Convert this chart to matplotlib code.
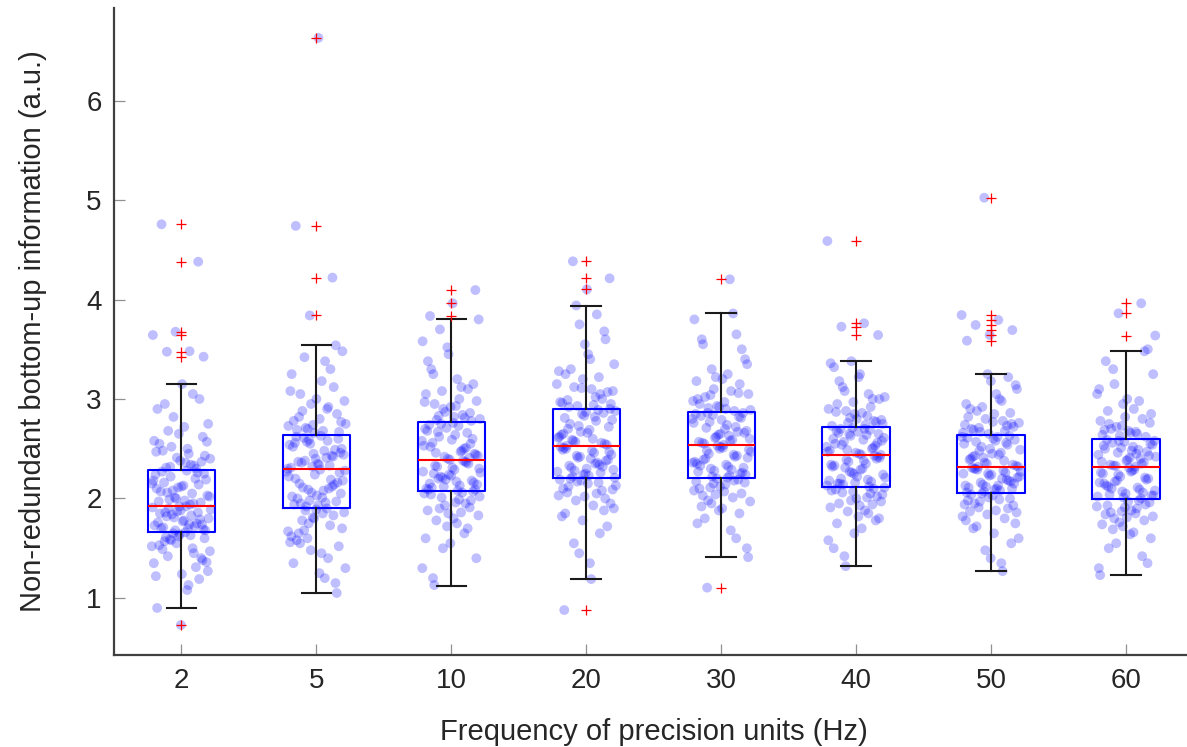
import matplotlib
matplotlib.use("Agg")
import matplotlib.pyplot as plt
import numpy as np

# ---------------- data ----------------
categories = ["2", "5", "10", "20", "30", "40", "50", "60"]

# box statistics
q1 = [1.667, 1.901, 2.075, 2.204, 2.209, 2.119, 2.058, 1.995]
med = [1.925, 2.293, 2.387, 2.528, 2.538, 2.434, 2.313, 2.320]
q3 = [2.286, 2.638, 2.772, 2.903, 2.869, 2.715, 2.638, 2.595]
whislo = [0.900, 1.047, 1.124, 1.188, 1.409, 1.322, 1.271, 1.231]
whishi = [3.154, 3.543, 3.800, 3.938, 3.861, 3.385, 3.251, 3.482]
outliers = [
    [4.756, 4.38, 3.676, 3.643, 3.475, 3.425, 0.729],
    [6.63, 4.74, 4.22, 3.84],
    [4.095, 3.962, 3.834],
    [4.384, 4.213, 4.102, 0.879],
    [4.203, 1.104],
    [4.588, 3.761, 3.727, 3.643],
    [5.023, 3.844, 3.794, 3.744, 3.693, 3.643, 3.586],
    [3.962, 3.861, 3.638],
]

# individual observations (estimated from the scatter)
obs_2 = [1.52, 1.13, 1.61, 1.38, 1.64, 0.90, 1.45, 1.58, 1.27, 1.66, 1.49, 1.19, 1.55, 1.35, 1.63, 1.42, 1.60, 1.24, 1.53, 1.31, 1.65, 1.47, 1.08, 1.57, 1.40, 1.62, 1.22, 1.50, 1.59, 1.36,
         1.78, 1.70, 1.86, 1.68, 1.91, 1.74, 1.82, 1.69, 1.88, 1.76, 1.72, 1.84, 1.80, 1.92, 1.71, 1.79, 1.87, 1.73, 1.83, 1.90, 1.68, 1.77, 1.85, 1.75, 1.81, 1.89, 1.70, 1.86, 1.74, 1.92,
         2.10, 1.95, 2.22, 2.03, 1.98, 2.27, 2.14, 2.00, 2.18, 1.94, 2.06, 2.25, 2.12, 1.97, 2.20, 2.08, 2.02, 2.28, 2.16, 1.96, 2.11, 2.24, 2.05, 1.99, 2.19, 2.13, 2.07, 2.26, 2.01, 2.15,
         2.45, 2.31, 2.62, 2.38, 2.90, 2.33, 2.52, 2.75, 2.36, 2.48, 3.00, 2.41, 2.58, 2.34, 2.68, 2.43, 3.15, 2.55, 2.30, 2.82, 2.40, 2.50, 2.95, 2.37, 2.65, 2.47, 3.05, 2.32, 2.57, 2.72,
         4.756, 4.38, 3.676, 3.643, 3.48, 3.475, 3.425, 0.729]
obs_5 = [1.75, 1.30, 1.85, 1.55, 1.05, 1.80, 1.62, 1.40, 1.88, 1.70, 1.25, 1.58, 1.83, 1.48, 1.67, 1.20, 1.78, 1.52, 1.89, 1.35, 1.73, 1.60, 1.86, 1.45, 1.65, 1.15, 1.81, 1.56, 1.90, 1.68,
         2.05, 1.93, 2.20, 2.12, 1.98, 2.27, 2.08, 1.95, 2.16, 2.24, 2.02, 2.10, 1.92, 2.18, 2.29, 2.00, 2.14, 2.06, 2.22, 1.96, 2.11, 2.26, 2.03, 1.94, 2.19, 2.09, 2.28, 2.01, 2.15, 1.97,
         2.45, 2.31, 2.58, 2.38, 2.50, 2.34, 2.62, 2.42, 2.55, 2.30, 2.48, 2.36, 2.60, 2.40, 2.52, 2.33, 2.57, 2.44, 2.63, 2.37, 2.49, 2.32, 2.54, 2.41, 2.61, 2.46, 2.35, 2.56, 2.43, 2.59,
         2.75, 2.68, 3.05, 2.85, 2.66, 3.25, 2.92, 2.71, 3.48, 2.80, 2.69, 3.12, 2.95, 2.73, 3.38, 2.88, 2.67, 3.00, 2.78, 3.30, 2.70, 2.98, 3.18, 2.82, 3.54, 2.74, 3.08, 2.90, 3.42, 2.77,
         6.63, 4.74, 4.22, 3.84]
obs_10 = [1.95, 1.50, 2.02, 1.75, 1.13, 1.98, 1.85, 1.60, 2.06, 1.90, 1.40, 1.80, 2.04, 1.70, 1.93, 1.30, 1.99, 1.78, 2.07, 1.55, 1.88, 1.65, 2.01, 1.83, 1.96, 1.20, 1.91, 1.72, 2.05, 1.86,
          2.20, 2.09, 2.31, 2.15, 2.36, 2.12, 2.26, 2.08, 2.33, 2.18, 2.24, 2.10, 2.38, 2.22, 2.14, 2.29, 2.11, 2.35, 2.19, 2.27, 2.13, 2.32, 2.16, 2.23, 2.09, 2.37, 2.21, 2.30, 2.17, 2.25,
          2.55, 2.40, 2.70, 2.48, 2.62, 2.44, 2.76, 2.52, 2.66, 2.42, 2.58, 2.73, 2.46, 2.60, 2.39, 2.68, 2.50, 2.75, 2.43, 2.64, 2.56, 2.41, 2.71, 2.53, 2.47, 2.67, 2.45, 2.59, 2.74, 2.51,
          2.90, 2.80, 3.20, 2.95, 2.78, 3.45, 3.05, 2.84, 3.70, 2.98, 2.82, 3.30, 3.10, 2.87, 3.58, 3.00, 2.79, 3.15, 2.92, 3.38, 2.81, 3.08, 3.80, 2.93, 3.25, 2.86, 3.52, 2.97, 3.12, 2.83,
          4.095, 3.962, 3.834]
obs_20 = [2.10, 1.65, 2.17, 1.90, 1.19, 2.12, 2.00, 1.78, 2.19, 2.05, 1.55, 1.95, 2.15, 1.85, 2.08, 1.45, 2.13, 1.93, 2.20, 1.72, 2.02, 1.82, 2.16, 1.98, 2.09, 1.35, 2.06, 1.88, 2.18, 2.03,
          2.35, 2.22, 2.47, 2.30, 2.51, 2.26, 2.41, 2.21, 2.48, 2.33, 2.38, 2.24, 2.52, 2.36, 2.28, 2.44, 2.23, 2.50, 2.32, 2.42, 2.27, 2.46, 2.31, 2.39, 2.25, 2.49, 2.34, 2.43, 2.29, 2.40,
          2.70, 2.55, 2.85, 2.62, 2.78, 2.58, 2.90, 2.66, 2.81, 2.56, 2.73, 2.88, 2.60, 2.75, 2.54, 2.83, 2.64, 2.89, 2.57, 2.79, 2.69, 2.53, 2.86, 2.67, 2.61, 2.82, 2.59, 2.72, 2.87, 2.65,
          3.05, 2.93, 3.35, 3.10, 2.92, 3.60, 3.20, 2.97, 3.85, 3.12, 2.95, 3.45, 3.25, 3.00, 3.75, 3.15, 2.94, 3.30, 3.07, 3.55, 2.96, 3.22, 3.94, 3.08, 3.40, 2.99, 3.68, 3.11, 3.28, 3.02,
          4.384, 4.213, 4.102, 0.879]
obs_30 = [2.12, 1.75, 2.18, 1.95, 1.41, 2.14, 2.03, 1.85, 2.20, 2.08, 1.68, 1.98, 2.16, 1.90, 2.10, 1.60, 2.15, 1.97, 2.21, 1.80, 2.05, 1.88, 2.17, 2.01, 2.11, 1.50, 2.07, 1.92, 2.19, 2.04,
          2.36, 2.23, 2.48, 2.31, 2.52, 2.27, 2.42, 2.22, 2.49, 2.34, 2.39, 2.25, 2.53, 2.37, 2.29, 2.45, 2.24, 2.51, 2.33, 2.43, 2.28, 2.47, 2.32, 2.40, 2.26, 2.50, 2.35, 2.44, 2.30, 2.41,
          2.70, 2.56, 2.82, 2.62, 2.76, 2.58, 2.86, 2.66, 2.79, 2.57, 2.72, 2.84, 2.60, 2.74, 2.55, 2.81, 2.64, 2.85, 2.59, 2.77, 2.68, 2.54, 2.83, 2.67, 2.61, 2.80, 2.63, 2.71, 2.86, 2.65,
          3.00, 2.88, 3.30, 3.05, 2.90, 3.55, 3.15, 2.93, 3.80, 3.08, 2.91, 3.40, 3.20, 2.95, 3.65, 3.10, 2.89, 3.25, 3.02, 3.50, 2.92, 3.18, 3.86, 3.04, 3.35, 2.97, 3.60, 3.06, 3.22, 2.98,
          4.203, 1.104]
obs_40 = [2.02, 1.65, 2.08, 1.85, 1.32, 2.04, 1.93, 1.75, 2.10, 1.98, 1.58, 1.88, 2.06, 1.80, 2.00, 1.50, 2.05, 1.87, 2.11, 1.70, 1.95, 1.78, 2.07, 1.91, 2.01, 1.42, 1.97, 1.82, 2.09, 1.94,
          2.27, 2.13, 2.38, 2.20, 2.42, 2.16, 2.32, 2.12, 2.39, 2.24, 2.29, 2.15, 2.43, 2.26, 2.18, 2.35, 2.14, 2.41, 2.22, 2.33, 2.17, 2.37, 2.21, 2.30, 2.15, 2.40, 2.25, 2.34, 2.19, 2.31,
          2.58, 2.45, 2.68, 2.51, 2.63, 2.47, 2.70, 2.54, 2.65, 2.46, 2.60, 2.69, 2.49, 2.61, 2.44, 2.66, 2.53, 2.71, 2.48, 2.64, 2.57, 2.44, 2.67, 2.55, 2.50, 2.65, 2.52, 2.59, 2.70, 2.56,
          2.85, 2.73, 3.05, 2.88, 2.75, 3.25, 2.95, 2.78, 3.38, 2.90, 2.74, 3.12, 3.00, 2.80, 3.32, 2.92, 2.76, 3.02, 2.86, 3.18, 2.77, 2.97, 3.36, 2.83, 3.08, 2.79, 3.22, 2.87, 3.00, 2.81,
          4.588, 3.761, 3.727, 3.643]
obs_50 = [1.95, 1.55, 2.01, 1.78, 1.27, 1.97, 1.86, 1.65, 2.04, 1.90, 1.48, 1.82, 1.99, 1.72, 1.93, 1.40, 1.98, 1.80, 2.05, 1.60, 1.88, 1.70, 2.00, 1.84, 1.94, 1.35, 1.91, 1.75, 2.03, 1.87,
          2.19, 2.07, 2.27, 2.13, 2.30, 2.10, 2.23, 2.06, 2.28, 2.16, 2.21, 2.09, 2.31, 2.18, 2.12, 2.25, 2.08, 2.29, 2.15, 2.24, 2.11, 2.26, 2.14, 2.22, 2.10, 2.30, 2.17, 2.25, 2.13, 2.20,
          2.48, 2.33, 2.60, 2.40, 2.54, 2.36, 2.62, 2.44, 2.57, 2.34, 2.50, 2.61, 2.38, 2.52, 2.32, 2.58, 2.42, 2.63, 2.35, 2.55, 2.46, 2.32, 2.59, 2.45, 2.39, 2.56, 2.41, 2.49, 2.62, 2.43,
          2.75, 2.65, 2.95, 2.78, 2.67, 3.10, 2.85, 2.70, 3.22, 2.80, 2.66, 3.00, 2.88, 2.72, 3.18, 2.82, 2.68, 2.92, 2.76, 3.05, 2.69, 2.86, 3.25, 2.74, 2.98, 2.71, 3.14, 2.77, 2.90, 2.73,
          5.023, 3.844, 3.794, 3.744, 3.693, 3.643, 3.586]
obs_60 = [1.88, 1.50, 1.94, 1.72, 1.23, 1.90, 1.80, 1.60, 1.97, 1.84, 1.42, 1.76, 1.92, 1.66, 1.86, 1.35, 1.91, 1.74, 1.98, 1.55, 1.82, 1.64, 1.93, 1.78, 1.87, 1.30, 1.85, 1.69, 1.96, 1.81,
          2.15, 2.00, 2.24, 2.08, 2.28, 2.04, 2.19, 2.01, 2.26, 2.11, 2.17, 2.03, 2.31, 2.13, 2.06, 2.22, 2.02, 2.29, 2.10, 2.20, 2.05, 2.25, 2.09, 2.18, 2.03, 2.27, 2.12, 2.21, 2.07, 2.16,
          2.45, 2.33, 2.55, 2.39, 2.50, 2.35, 2.58, 2.42, 2.52, 2.34, 2.47, 2.57, 2.37, 2.49, 2.33, 2.54, 2.41, 2.59, 2.36, 2.51, 2.44, 2.32, 2.56, 2.43, 2.38, 2.53, 2.40, 2.46, 2.58, 2.48,
          2.75, 2.62, 2.95, 2.78, 2.65, 3.15, 2.85, 2.68, 3.38, 2.80, 2.63, 3.05, 2.90, 2.70, 3.50, 2.82, 2.64, 2.98, 2.72, 3.25, 2.66, 2.88, 3.48, 2.73, 3.10, 2.67, 3.30, 2.76, 3.00, 2.69,
          3.962, 3.861, 3.638]
observations = [obs_2, obs_5, obs_10, obs_20, obs_30, obs_40, obs_50, obs_60]

x_label = "Frequency of precision units (Hz)"
y_label = "Non-redundant bottom-up information (a.u.)"

# ---------------- figure ----------------
plt.rcParams['font.family'] = ['Liberation Sans', 'DejaVu Sans']
TXT = '#262626'

W, H = 1187, 747
fig = plt.figure(figsize=(W / 100, H / 100), dpi=100)
ax = fig.add_axes([114 / W, 92 / H, (1193.6 - 114) / W, (655 - 8) / H])

positions = np.arange(1, len(categories) + 1)

# jittered observations (deterministic golden-ratio jitter for horizontal spread)
phi = 0.6180339887
for g, vals in enumerate(observations):
    n = len(vals)
    idx = np.arange(n)
    off = ((idx * phi + g * 0.37) % 1.0 - 0.5) * 0.44
    ax.scatter(positions[g] + off, vals, s=50, color=(0, 0, 1), alpha=0.25,
               edgecolors='none', zorder=2)

stats = []
for i in range(len(categories)):
    stats.append(dict(med=med[i], q1=q1[i], q3=q3[i], whislo=whislo[i],
                      whishi=whishi[i], fliers=outliers[i]))

ax.bxp(stats, positions=positions, widths=0.5, capwidths=0.22,
       showfliers=True, patch_artist=False,
       boxprops=dict(color=(0, 0, 1), linewidth=1.5),
       medianprops=dict(color=(1, 0, 0), linewidth=1.5),
       whiskerprops=dict(color='#1a1a1a', linewidth=1.5),
       capprops=dict(color='#1a1a1a', linewidth=1.5),
       flierprops=dict(marker='+', markeredgecolor=(1, 0, 0), markersize=7,
                       markeredgewidth=0.9, linestyle='none'),
       zorder=3)

ax.set_xlim(0.5, 8.5)
ax.set_ylim(0.427, 6.93)
ax.set_xticks(positions)
ax.set_xticklabels(categories)
ax.set_yticks([1, 2, 3, 4, 5, 6])
ax.set_yticklabels(['1', '2', '3', '4', '5', '6'])

for s in ['top', 'right']:
    ax.spines[s].set_visible(False)
for s in ['left', 'bottom']:
    ax.spines[s].set_color('#404040')
    ax.spines[s].set_linewidth(1.6)

ax.tick_params(axis='both', direction='in', length=8, width=0.9, color='#909090',
               labelsize=20, labelcolor=TXT, pad=9)

ax.set_xlabel(x_label, fontsize=21, color=TXT, labelpad=18)
ax.set_ylabel(y_label, fontsize=21, color=TXT, labelpad=28)

fig.savefig("out.png", dpi=100)
